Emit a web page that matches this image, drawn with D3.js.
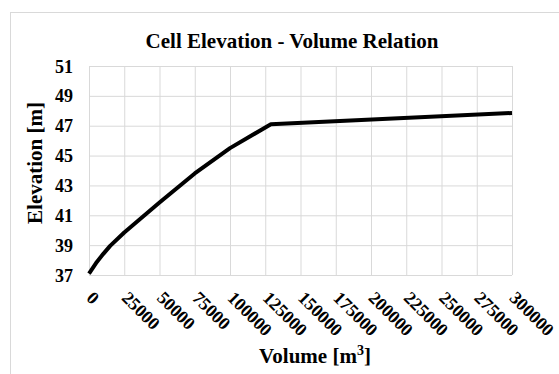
<!DOCTYPE html>
<html>
<head>
<meta charset="utf-8">
<script src="https://cdn.jsdelivr.net/npm/d3@7/dist/d3.min.js"></script>
<style>
  html, body { margin: 0; padding: 0; background: #fff; }
  svg { display: block; }
  svg text { font-family: "Liberation Serif", "Times New Roman", serif; font-weight: bold; fill: #000; }
</style>
</head>
<body>
<svg id="chart" width="559" height="374"></svg>
<script>
// Cell storage curve: volume (m³) vs water elevation (m)
const volumes    = [0, 5000, 10000, 15000, 25000, 50000, 75000, 100000, 129000, 300000];
const elevations = [37.1, 37.8, 38.4, 38.95, 39.85, 41.85, 43.8, 45.5, 47.1, 47.85];
const xTicks = [0, 25000, 50000, 75000, 100000, 125000, 150000, 175000, 200000, 225000, 250000, 275000, 300000];
const yTicks = [37, 39, 41, 43, 45, 47, 49, 51];

const FONT = "'Liberation Serif', 'Times New Roman', serif";
const svg = d3.select("#chart");
const W = 559, H = 374;
const plot = { left: 89, top: 66, right: 512, bottom: 275 };

// chart frame
svg.append("rect")
  .attr("x", 10.5).attr("y", 12.5)
  .attr("width", W + 10).attr("height", H + 10)
  .attr("fill", "#fff").attr("stroke", "#d9d9d9").attr("stroke-width", 1);

const x = d3.scaleLinear().domain([0, 300000]).range([plot.left, plot.right]);
const y = d3.scaleLinear().domain([37, 51]).range([plot.bottom, plot.top]);

// gridlines
const grid = svg.append("g");
grid.append("g")
  .attr("transform", `translate(0,${plot.bottom})`)
  .call(d3.axisBottom(x).tickValues(xTicks).tickSize(-(plot.bottom - plot.top)).tickFormat(""))
  .call(g => g.select(".domain").remove())
  .call(g => g.selectAll("line").attr("stroke", "#d9d9d9").attr("stroke-width", 1));
grid.append("g")
  .attr("transform", `translate(${plot.left},0)`)
  .call(d3.axisLeft(y).tickValues(yTicks).tickSize(-(plot.right - plot.left)).tickFormat(""))
  .call(g => g.select(".domain").remove())
  .call(g => g.selectAll("line").attr("stroke", "#d9d9d9").attr("stroke-width", 1));

// y tick labels
svg.append("g")
  .attr("transform", `translate(${plot.left},0)`)
  .call(d3.axisLeft(y).tickValues(yTicks).tickSize(0).tickPadding(16).tickFormat(d3.format("d")))
  .attr("font-family", FONT).attr("font-size", 18).attr("font-weight", "bold")
  .call(g => g.select(".domain").remove())
  .call(g => g.selectAll("text").attr("fill", "#000").attr("dy", "0.34em"));

// x tick labels, rotated 45°
svg.append("g")
  .attr("transform", `translate(0,${plot.bottom})`)
  .call(d3.axisBottom(x).tickValues(xTicks).tickSize(0).tickFormat(d3.format("d")))
  .attr("font-family", FONT).attr("font-size", 18).attr("font-weight", "bold")
  .call(g => g.select(".domain").remove())
  .call(g => g.selectAll("text")
    .attr("fill", "#000")
    .attr("text-anchor", "start")
    .attr("y", 0)
    .attr("dy", 0)
    .attr("transform", "translate(-4,24) rotate(45)"));

// curve
const line = d3.line()
  .x((d, i) => x(volumes[i]))
  .y(d => y(d));

svg.append("path")
  .datum(elevations)
  .attr("d", line)
  .attr("fill", "none")
  .attr("stroke", "#000")
  .attr("stroke-width", 4)
  .attr("stroke-linejoin", "round")
  .attr("stroke-linecap", "butt");

// title
svg.append("text")
  .attr("x", 292).attr("y", 48)
  .attr("text-anchor", "middle")
  .attr("font-size", 21)
  .text("Cell Elevation - Volume Relation");

// axis titles
const xt = svg.append("text")
  .attr("x", 315).attr("y", 363)
  .attr("text-anchor", "middle")
  .attr("font-size", 21);
xt.append("tspan").text("Volume [m");
xt.append("tspan").attr("font-size", 14).attr("dy", -8).text("3");
xt.append("tspan").attr("dy", 8).text("]");

svg.append("text")
  .attr("transform", "translate(42,163) rotate(-90)")
  .attr("text-anchor", "middle")
  .attr("font-size", 21)
  .text("Elevation [m]");
</script>
</body>
</html>
